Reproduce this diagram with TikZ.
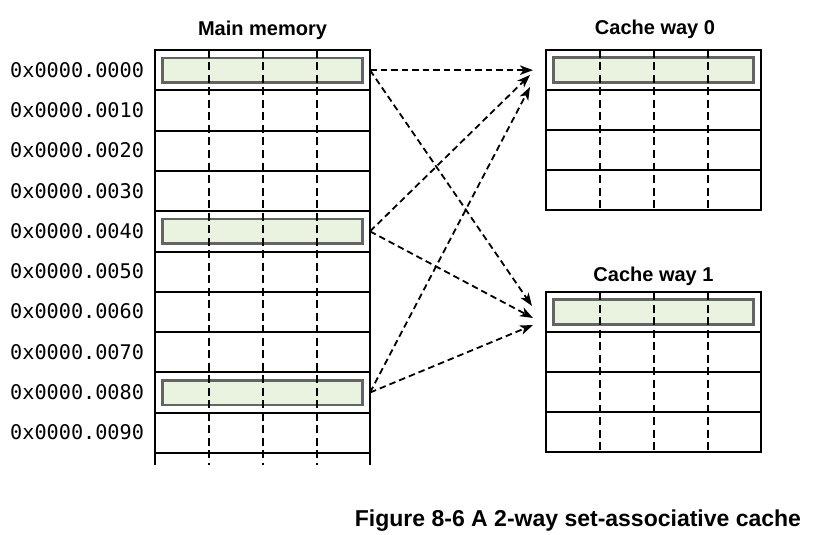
\documentclass[tikz,border=0pt]{standalone}
\usepackage{fontspec}
\setmainfont{Liberation Sans}
\newfontfamily\monof{DejaVu Sans Mono}
\usetikzlibrary{arrows.meta,calc}
\definecolor{hlgreen}{RGB}{234,243,224}
\definecolor{hlgray}{RGB}{100,100,100}
\begin{document}
\begin{tikzpicture}[x=1pt,y=-1pt,
  rowbox/.style={draw, line width=2pt, minimum width=215pt, minimum height=40.3pt, inner sep=0pt, outer sep=0pt},
  crow/.style={draw, line width=2pt, minimum width=215pt, minimum height=40pt, inner sep=0pt, outer sep=0pt},
  hl/.style={draw=hlgray, fill=hlgreen, line width=2.6pt, minimum width=200.5pt, minimum height=24.5pt, inner sep=0pt},
  gridline/.style={dash pattern=on 8pt off 4.5pt, line width=2pt},
  link/.style={dash pattern=on 6.5pt off 4pt, line width=1.8pt, -{Stealth[length=13pt,width=9.5pt,inset=3.5pt]}},
  title/.style={font=\bfseries\fontsize{20}{24}\selectfont, anchor=base},
  addr/.style={font=\monof\fontsize{20.2}{24}\selectfont, anchor=base west, inner sep=0pt},
]
\useasboundingbox (0,0) rectangle (815,535);

% ---------- Main memory ----------
\node[title] (tmain) at (262.5,36) {Main memory};
\foreach \i in {0,...,9} {
  \node[rowbox] (m\i) at (262.5,{70.15+40.3*\i}) {};
}
\foreach \i in {0,4,8} {
  \node[hl] (hm\i) at (m\i) {};
}
\foreach \i/\t in {0/0000,1/0010,2/0020,3/0030,4/0040,5/0050,6/0060,7/0070,8/0080,9/0090} {
  \node[addr] (a\i) at (10,{77.15+40.3*\i}) {0x0000.\t};
}
% open bottom of main memory
\coordinate (mbl) at ([yshift=-12pt]m9.south west);
\coordinate (mbr) at ([yshift=-12pt]m9.south east);
\draw[line width=2pt] (m9.south west) -- (mbl);
\draw[line width=2pt] (m9.south east) -- (mbr);
\foreach \dx in {54,108,162} {
  \coordinate (mt\dx) at ([xshift=\dx pt]m0.north west);
  \draw[gridline] (mt\dx) -- ++(0,415);
}

% ---------- Cache way 0 ----------
\node[title] (tc0) at (655,35) {Cache way 0};
\foreach \i in {0,...,3} {
  \node[crow] (c0r\i) at (653.5,{70+40*\i}) {};
}
\node[hl] (hc0) at (c0r0) {};
\foreach \dx in {54,108,162} {
  \coordinate (ct\dx) at ([xshift=\dx pt]c0r0.north west);
  \coordinate (cb\dx) at ([xshift=\dx pt]c0r3.south west);
  \draw[gridline] (ct\dx) -- (cb\dx);
}

% ---------- Cache way 1 ----------
\node[title] (tc1) at (653.5,281) {Cache way 1};
\foreach \i in {0,...,3} {
  \node[crow] (c1r\i) at (653.5,{312+40*\i}) {};
}
\node[hl] (hc1) at (c1r0) {};
\foreach \dx in {54,108,162} {
  \coordinate (dt\dx) at ([xshift=\dx pt]c1r0.north west);
  \coordinate (db\dx) at ([xshift=\dx pt]c1r3.south west);
  \draw[gridline] (dt\dx) -- (db\dx);
}

% ---------- connectors ----------
\coordinate (t00) at (533,70.15);
\coordinate (t40) at (530,75);
\coordinate (t80) at (530,87);
\coordinate (t01) at (532,306);
\coordinate (t41) at (533,318);
\coordinate (t81) at (533,325);
\draw[link] (m0.east) -- (t00);
\draw[link] (m0.east) -- (t01);
\draw[link] (m4.east) -- (t40);
\draw[link] (m4.east) -- (t41);
\draw[link] (m8.east) -- (t80);
\draw[link] (m8.east) -- (t81);

% ---------- caption ----------
\node[font=\bfseries\fontsize{23}{27}\selectfont, anchor=base] (cap) at (578,526) {Figure 8-6 A 2-way set-associative cache};
\end{tikzpicture}
\end{document}
